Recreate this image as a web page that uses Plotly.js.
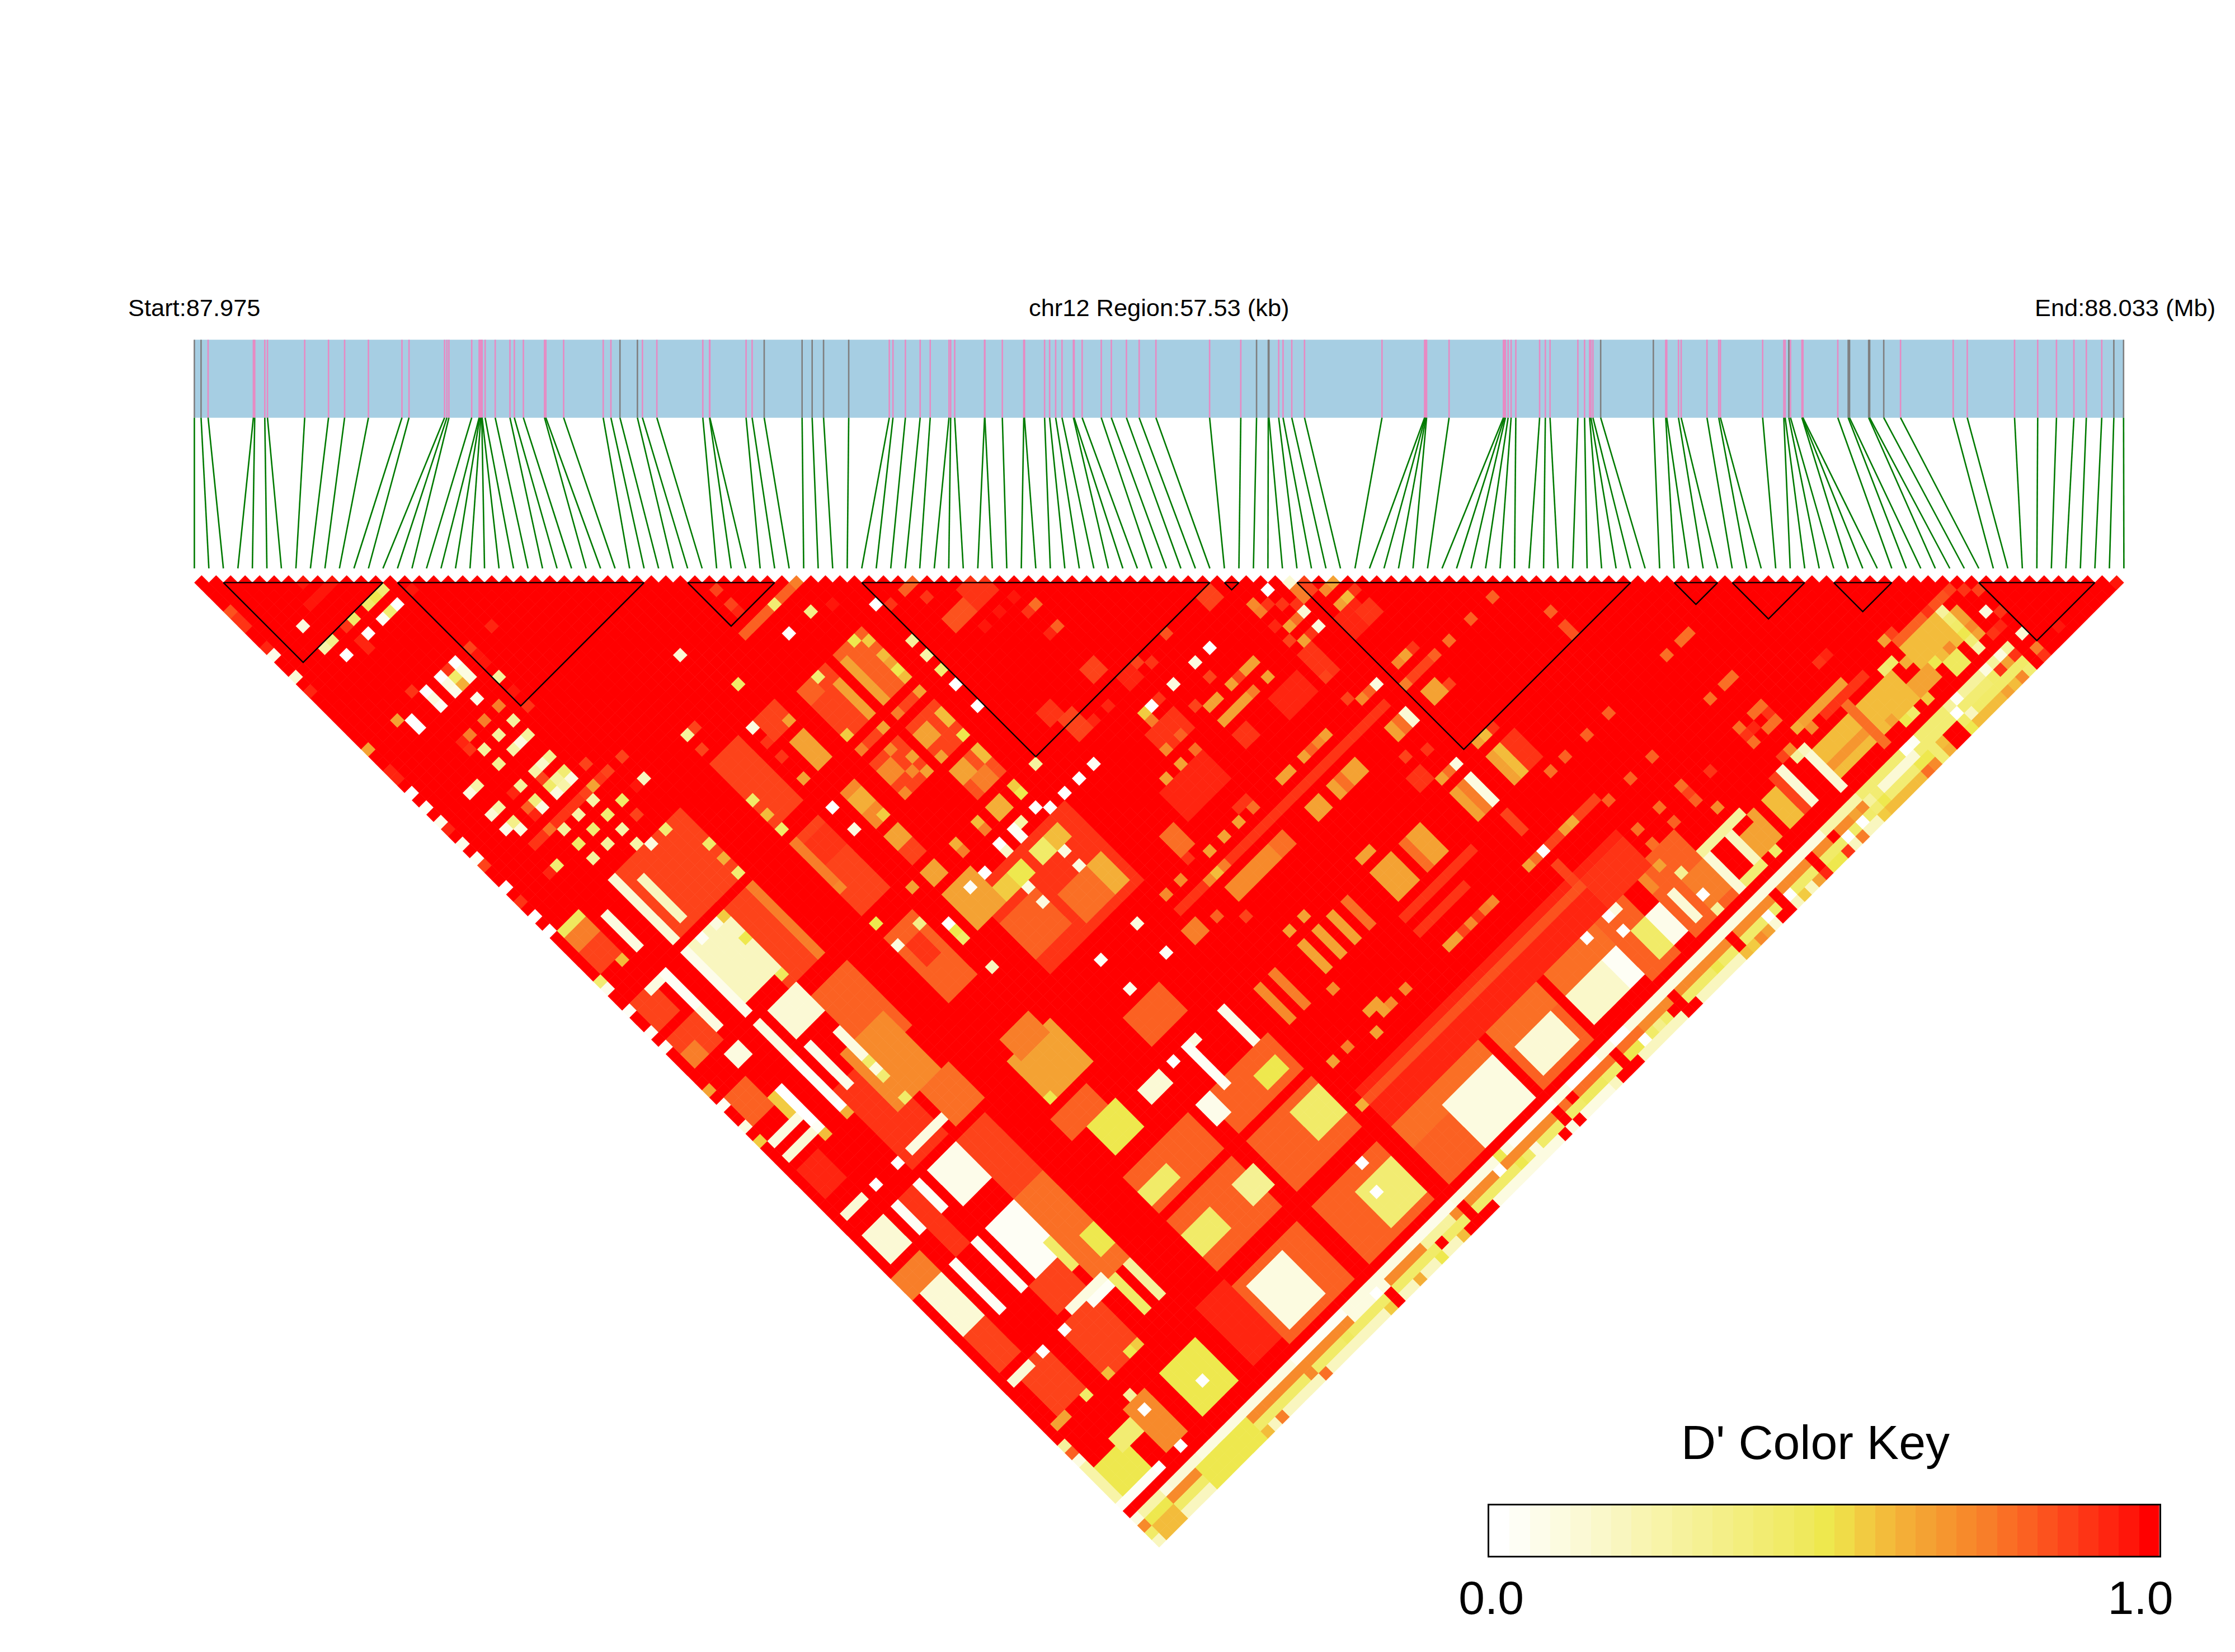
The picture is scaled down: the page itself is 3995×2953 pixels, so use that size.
<!DOCTYPE html>
<html><head><meta charset="utf-8">
<script src="https://cdn.plot.ly/plotly-3.0.1.min.js"></script>
<style>html,body{margin:0;padding:0;background:#fff}</style></head>
<body><div id="chart" style="width:3995px;height:2953px"></div>
<script>
// SNP genomic offsets in kb from region start
const snpKb=[0,.2,.41,1.76,1.8,2.1,2.18,3.29,4,4.48,5.19,6.19,6.4,7.46,7.53,7.59,8.27,8.49,8.51,8.54,8.57,8.58,8.67,8.97,9.41,9.54,9.81,10.44,10.48,11.01,12.19,12.42,12.69,13.21,13.36,13.79,
15.16,15.36,15.37,16.45,16.63,16.99,18.12,18.42,18.76,19.51,20.72,20.83,21.2,21.64,21.94,22.5,22.55,22.67,23.56,23.57,24.09,24.73,24.75,25.35,25.5,25.68,25.87,26.21,26.23,26.47,27.04,27.34,27.79,28.17,28.67,
30.27,31.2,31.67,32.02,32.04,32.33,32.46,32.72,33.1,35.41,36.68,36.7,36.72,36.74,37.41,39.03,39.06,39.09,39.17,39.26,39.4,40.11,40.28,40.42,41.25,41.45,41.6,41.64,41.7,41.93,
43.5,43.87,43.9,44.25,44.33,45.1,45.45,45.5,46.76,47.39,47.43,47.54,47.59,47.93,47.94,47.96,49,49.31,49.35,49.92,49.95,50.37,50.87,52.44,52.86,54.27,54.96,55.52,56.04,56.41,56.87,57.23,57.52];
const greySnps=[0,1,32,33,41,42,43,44,45,73,74,75,100,101,112,118,119,120,121,122,132,133];
const regionKb=57.53;
const blockStart=[2,14,34,46,71,76,102,106,113,123];
const blockEnd=[13,31,40,70,72,99,105,111,117,131];
const keyColors=['#FFFFFF','#FEFEF5','#FDFCEA','#FCFBE0','#FBF9D5','#FAF8CA','#F9F6BF','#F9F5B2','#F8F4A8','#F6F29D','#F5F193','#F4EF88','#F3EE7D','#F2EC72','#F1EB68','#EFE95D','#EEE84E','#F0DC48','#F2CB41','#F3BC3B','#F4AE37','#F4A233','#F6962F','#F78A2B','#F87E29','#FA6F25','#FB6122','#FC521E','#FD431A','#FE3415','#FF2510','#FF160A','#FF0000'];
const keyTickVals=[0.003,0.972], keyTickText=['0.0','1.0'];
// D' blocks: [iFrom,iTo,jFrom,jTo,value]; everything not listed is 1.0
const dprimeBlocks=[
[23,44,106,128,.8],[23,44,111,111,1],[23,44,119,120,1],[32,33,106,128,1],[43,44,106,128,1],[45,80,116,120,.92],[45,80,117,117,.82],[45,75,121,123,.78],[45,49,124,128,.8],[73,76,121,128,.8],[79,84,120,128,.8],[58,64,124,128,.8],[57,57,121,128,1],[65,65,121,128,1],
[0,100,130,130,.1],[0,100,131,131,.72],[0,100,132,132,.45],[0,100,133,133,.2],[58,68,131,131,.78],[100,120,130,133,.42],[110,111,132,133,1],
[57,57,131,133,1],[65,65,131,133,1],[73,73,131,133,1],[44,44,131,133,1],[33,33,132,133,1],[81,81,131,132,1],[87,87,131,132,1],[92,92,131,132,1],[95,95,131,131,1],
[46,62,133,133,.1],[66,67,130,130,.02],[60,63,130,130,.03],[60,62,132,132,.48],[52,57,130,130,.05],[38,43,130,130,.08],[39,42,131,131,.3],[33,37,130,130,.1],
[9,17,50,58,.85],[14,17,100,111,.78],[9,13,80,90,.88],[14,17,92,99,.85],[6,7,92,99,.88],[14,18,72,80,.8],[12,17,78,85,.7],[15,18,86,90,.78],[1,3,50,50,.47],[1,3,51,52,.75],[1,3,53,55,.85],
[23,26,49,57,.85],[30,31,53,56,.66],[29,31,49,51,.85],[34,37,50,56,.85],[37,37,52,56,.66],[34,35,50,51,.8],[39,42,50,56,.8],[39,39,51,56,.66],[40,41,52,53,.8],
[34,40,42,42,.8],[45,60,91,91,.9],[30,31,60,64,.72],[30,31,61,62,.62],[34,37,60,64,.85],[34,35,61,62,.72],[39,42,60,64,.85],[39,40,61,62,.66],[42,42,61,62,.6],
[34,37,58,58,.85],[39,42,58,58,.87],[39,42,66,69,.82],[39,40,66,67,.66],[42,42,66,67,.6],[40,41,68,69,.75],[49,51,55,56,.82],[52,54,54,56,.9],[55,56,68,69,.87],[49,50,68,69,.88],[50,51,70,72,.85],[57,58,71,72,.93],
[32,44,76,86,.9],[39,40,77,78,.45],[41,42,77,78,.6],[36,37,77,78,.5],[34,35,77,78,.55],[38,41,82,85,.78],[42,43,82,85,.62],[39,40,71,72,.62],[30,31,71,72,.65],[30,31,66,67,.65],[30,31,68,69,.85],
[23,26,60,69,.85],[23,23,60,66,.75],[24,26,61,63,.88],[17,17,60,69,.75],[13,16,60,69,.87],[8,11,61,63,.2],[23,26,73,81,.8],[24,25,75,77,.9],[30,33,74,78,.65],[32,36,80,84,.8],[34,38,95,98,.8],
[68,69,71,72,.87],[71,72,82,85,.9],[76,78,82,84,.92],[78,79,83,84,.9],[76,79,91,91,.87],[77,78,93,94,.65],[66,69,83,85,.92],[61,62,83,84,.9],[66,67,93,94,.66],[64,64,93,94,.66],[65,65,93,94,.78],
[60,73,91,91,.88],[74,74,102,105,.1],[73,73,102,105,.75],[72,72,102,105,.65],[78,78,102,105,.6],[77,77,102,105,.66],[79,80,102,105,.9],[70,71,98,99,.88],[61,62,93,94,.66],[74,74,107,109,.85],
[66,67,102,105,.66],[65,65,102,105,.78],[61,63,102,105,.66],[65,69,107,107,.88],[60,66,109,109,.9],[60,64,107,107,.88],[74,74,114,116,.85],[75,80,117,120,.88],[75,81,112,112,.87],
[57,57,102,105,.78],[55,55,102,105,.66],[53,53,102,105,.66],[51,51,102,105,.66],[47,47,102,106,.75],[45,45,102,106,.7],[44,45,93,94,.75],[56,57,93,94,.78],[54,55,93,94,.7],[52,53,93,94,.7],[50,51,93,94,.7],[49,50,85,87,.78],
[52,55,82,85,.93],[55,57,82,85,.93],[55,58,77,79,.88],[56,57,88,88,.88],
[113,120,122,122,.85],[113,118,122,122,.8],[113,117,123,126,.6],[115,116,127,128,.48],[111,113,126,127,.65],[100,105,124,127,.6],[100,105,126,126,.67],[106,110,124,127,.58],[105,105,122,128,.78],[100,106,121,121,.66],[103,108,122,122,.88],
[96,96,123,127,.15],[99,99,124,128,.15],[112,120,130,130,.3],[112,118,131,131,.42],[112,120,132,132,.45],[113,118,133,133,.6],[102,106,131,131,.15],[101,105,133,133,.58],[95,99,130,130,.25],
[93,94,124,127,.6],[95,95,123,127,.85],[91,91,124,127,.65],[85,90,123,123,.3],[88,88,124,128,.2],[89,90,125,127,.65],[85,85,124,128,.15],[86,88,128,128,.42],[82,84,124,127,.75],[80,80,124,127,.15],[77,78,124,127,.08],[75,76,124,127,.45],
[66,72,124,127,.18],[71,72,124,127,.05],[59,63,124,127,.15],[50,56,123,128,.1],[38,42,123,127,.4],[24,28,122,127,.1],[23,26,108,109,.45],[30,32,114,116,.33],[23,26,114,116,.45],[39,42,113,116,.45],[39,41,108,109,.5],[41,41,101,105,.08],[36,36,101,106,.05],[33,34,106,108,.08],[30,32,101,102,.15],
[5,5,52,56,.1],[8,8,50,58,.15],[10,10,52,57,.2],[8,8,60,68,.08],[5,5,60,66,.05],[9,13,60,67,.2],[5,5,65,67,.1],[8,8,70,74,.12],[10,13,70,73,.15],[8,8,75,80,.05],[10,10,75,80,.08],[13,13,76,82,.1],[4,5,70,71,.1],[1,4,79,79,.1],[1,4,81,81,.15],[5,5,76,80,.03],[4,4,76,78,.55],
[1,3,89,89,.15],[1,3,92,95,.15],[5,5,92,95,.05],[8,8,92,95,.05],[10,13,92,96,.08],[10,13,100,106,.05],[13,13,105,108,.45],[16,17,107,109,.5],[8,8,101,106,.05],[5,5,101,106,.05],[1,3,100,105,.15],[0,3,97,99,.75],[10,14,111,111,.1],[10,14,89,89,.1],
[1,3,60,63,.85],[1,4,65,68,.85],[1,2,67,68,.75],[1,3,73,76,.8],[1,3,83,86,.92],[23,28,90,95,.66],[24,27,88,90,.75],[24,27,100,103,.5],[22,26,97,99,.8],
[1,4,124,127,.5],[0,0,123,127,.25],[4,6,123,124,.42],[7,9,122,127,.7],[5,8,130,130,.15],[8,14,131,133,.5],[0,5,128,128,.05],[19,22,120,127,.92],[12,16,122,127,.5],[8,12,112,118,.85],[2,5,112,117,.87],[1,2,118,118,.66],[1,3,112,112,.15],[1,3,106,110,.87],[9,12,107,110,.87],[12,15,112,112,.05],[15,15,112,116,.45],[17,17,112,116,.3],
[1,3,130,130,.25],[1,3,131,131,.5],[1,3,132,133,.6],[22,28,130,130,.05],[29,33,130,131,.1],[0,2,129,129,1],[84,87,133,133,1],[6,9,10,10,.96],[5,8,12,12,.98],[5,11,42,42,.9],[34,40,42,42,.8]
];
// Single cells: [i,j,value]
const dprimeCells=[
[0,5,.82],[0,6,.9],[0,7,.9],[0,10,.92],[0,11,.08],[0,14,.15],[0,16,.93],[0,24,.65],[0,27,.92],[0,28,.92],[0,30,.03],[0,32,.05],[0,34,.08],[0,35,.93],[0,37,.08],[0,39,.05],[0,40,.85],[0,43,.03],[0,45,.88],[0,47,.03],[0,49,.03],[0,56,.4],[0,57,.08],[0,60,.05],[0,63,.05],[0,65,.05],[0,71,.65],[0,73,.05],[0,76,.1],[0,78,.55],[0,119,1],[0,120,.3],[0,121,.8],[0,122,.12],[0,133,.2],
[7,8,.95],[4,11,.12],[12,14,.42],[11,14,.5],[10,14,.45],[12,16,.03],[11,16,.4],[10,16,.05],[8,14,.45],[7,14,.88],[8,16,.03],[7,16,.93],[7,17,.92],[5,14,.35],[4,14,.25],[5,16,.03],
[14,16,.95],[19,22,.97],[17,24,.93],[16,26,.97],[14,24,.85],[14,25,.96],[14,26,.96],[12,24,.02],[12,25,.1],[12,26,.12],[11,24,.9],[11,25,.45],[11,26,.62],[10,24,.03],[10,25,.12],[10,26,.08],[8,24,.02],[8,25,.1],[8,26,.05],[7,23,.9],[5,25,.03],[5,26,.02],[4,24,.66],
[11,28,.08],[12,30,.75],[10,30,.75],[8,30,.75],[7,30,.92],[7,31,.9],[12,32,.3],[10,32,.3],[8,32,.3],[8,34,.32],[12,34,.3],[11,34,.12],[10,34,.25],[14,28,.3],[14,30,.94],[14,32,.88],
[12,37,.32],[11,37,.18],[10,37,.25],[12,39,.4],[12,40,.1],[11,39,.28],[11,40,.25],[10,39,.45],[10,40,.12],[10,38,.85],[5,34,.25],[4,34,.12],[5,35,.97],[8,37,.28],[7,37,.92],[8,39,.38],[8,40,.12],[7,39,.8],[7,40,.92],[5,37,.25],[4,37,.15],[5,39,.35],[5,40,.12],[4,39,.08],
[5,45,.4],[4,45,.92],[14,40,.85],[17,45,.2],[16,45,.96],[13,42,.66],[12,42,.85],[14,42,.9],[15,42,.85],[17,42,.85],[12,43,.25],[14,45,.45],[10,43,.25],[12,45,.4],[14,47,.87],[8,43,.3],[10,45,.4],[12,47,.25],[7,42,.78],[8,45,.45],[10,47,.3],[8,47,.3],[12,49,.25],[13,50,.12],[15,50,.42],
[23,54,.45],[23,58,.45],[23,56,.6],[28,56,.66],[31,51,.66],[36,50,.42],[34,56,.55],[41,50,.5],[42,51,.55],[42,55,.5],[42,56,.6],[42,53,.58],[42,54,.65],
[38,42,.4],[41,42,.75],[35,37,.87],[35,39,.85],[35,40,.92],[28,39,.15],[37,45,.03],[40,45,.35],[42,46,.95],[30,45,.45],[23,45,.3],[24,45,.85],[28,49,.1],[23,47,.87],[28,51,.9],[28,53,.88],
[31,64,.55],[37,58,.66],[34,58,.75],[36,60,.72],[37,62,.66],[37,64,.65],[36,63,.7],[34,64,.7],[39,58,.75],[42,58,.66],[42,64,.5],[39,64,.66],[42,71,.55],[42,72,.5],
[45,71,.3],[49,75,.05],[47,75,.03],[45,75,.03],[45,49,.03],[46,50,.9],[45,54,.3],[45,56,.25],[45,58,.4],[45,60,.02],[45,63,.02],
[48,50,.8],[49,50,.8],[49,52,.88],[51,58,.95],[53,58,.95],[55,58,.95],[55,60,.9],[56,60,.78],[55,63,.92],[56,63,.8],[58,67,.97],[52,72,.92],[54,72,.92],[59,71,.85],[60,72,.9],[63,71,.82],[57,75,.03],[56,75,.55],[56,76,.75],[58,75,.9],[60,75,.12],
[42,74,.02],[43,75,.02],[39,74,.05],[40,74,.25],[39,75,.05],[37,74,.02],[37,75,.18],[34,75,.03],[32,75,.05],[41,79,.1],[41,81,.1],[36,79,.1],[36,81,.08],[34,71,.62],[34,72,.75],[37,71,.6],[37,72,.75],[28,71,.66],[28,63,.12],[28,60,.03],[23,66,.72],
[17,54,.45],[17,58,.42],[17,56,.62],[13,60,.55],[12,60,.12],[10,60,.05],[13,63,.5],[23,71,.5],[23,74,.1],[26,74,.35],[28,76,.03],[28,78,.45],[28,77,.5],[28,82,.2],[36,89,.05],[36,81,.1],
[73,75,.02],[71,75,.72],[71,76,.75],[72,76,.9],[73,77,.9],[74,78,.9],[74,79,.15],[73,79,.78],[72,79,.66],[71,78,.92],[74,81,.1],[73,81,.9],[72,81,.66],[71,80,.87],[71,85,.87],[75,76,.15],[76,77,.85],[78,79,.65],[75,77,.75],[75,78,.75],[76,78,.85],[77,79,.7],[78,81,.6],[77,81,.66],[79,81,.9],
[88,91,.8],[91,96,.8],[85,91,.8],[91,98,.82],[91,99,.82],[82,91,.78],[78,89,.65],[77,89,.72],[79,89,.9],[80,91,.8],[76,91,.75],[79,94,.85],[74,89,.12],[73,89,.8],[72,89,.72],[71,88,.85],
[63,75,.1],[65,75,.03],[66,79,.66],[67,79,.66],[65,79,.85],[64,79,.66],[67,81,.66],[65,81,.75],[64,81,.66],[63,77,.85],[61,79,.66],[62,79,.66],[60,78,.85],[61,81,.66],[62,81,.66],[63,81,.66],[67,89,.66],[66,89,.7],[65,89,.8],[64,89,.66],[62,89,.66],[61,89,.66],
[74,93,.15],[74,94,.15],[73,93,.78],[73,94,.78],[72,93,.66],[72,94,.66],[74,100,.12],[73,100,.78],[72,100,.66],[78,100,.6],[77,100,.66],[79,100,.9],[80,107,.78],[85,107,.8],[88,107,.8],[82,107,.8],[88,113,.8],[85,113,.8],[82,113,.8],[71,96,.87],[73,97,.88],
[61,100,.66],[62,100,.66],[66,112,.75],[67,112,.72],[64,112,.7],[65,112,.88],[61,112,.66],[62,112,.66],[63,112,.85],[74,112,.03],[73,112,.78],[72,112,.66],[74,115,.85],[79,121,.72],[79,122,.72],[75,121,.12],[74,121,.03],[74,123,.03],[71,121,.03],
[53,100,.66],[51,100,.66],[47,94,.8],[49,96,.87],[51,89,.66],[53,89,.66],[50,91,.6],[49,91,.7],[51,91,.75],[47,89,.72],[45,89,.7],[49,88,.88],[57,89,.78],[55,89,.66],[53,81,.66],[57,81,.78],[55,81,.65],[55,79,.72],[57,79,.8],
[78,112,.62],[77,112,.66],[99,107,.78],[98,107,.78],[96,107,.78],[99,113,.78],[98,113,.78],[96,113,.78],[99,117,.78],[98,117,.78],[99,118,.88],[99,119,.78],[98,119,.78],[97,118,.93],[96,117,.78],[96,118,.88],[96,119,.78],[107,118,.93],[106,118,.9],[91,118,.9],[88,117,.78],[88,118,.85],[88,119,.8],[85,117,.78],[85,119,.8],[82,119,.78],[82,117,.78],
[121,123,.88],[122,124,.85],[121,126,.12],[122,127,.9],[121,128,.92],[122,130,.15],[122,132,.75],[122,133,.88],[132,133,.95],[125,132,.95],[119,122,.82],[118,122,.82],[117,122,.9],[118,123,.3],[118,124,.4],[118,125,.45],[118,126,.5],[118,127,.4],[118,128,.25],[119,124,.66],[119,125,.65],[119,126,.7],[119,127,.66],[120,128,.9],
[116,126,.72],[114,126,.5],[112,124,.62],[111,123,.45],[110,123,.42],[112,121,.66],[113,121,.87],[100,121,.62],[101,122,.72],[107,127,.65],[108,128,.5],[109,128,.45],[111,128,.55],[98,122,.72],[97,122,.85],[98,123,.3],[99,123,.2],[119,130,.12],[117,130,.1],[115,130,.3],[113,130,.05],[120,131,.9],[119,131,.66],[118,131,.9],[117,131,.45],[119,133,.72],[117,133,.66],[114,133,.6],[112,133,.5],[113,132,.2],[112,131,.03],[109,132,.6],[109,133,.62],[107,132,.5],[106,132,.5],[107,133,.7],[106,133,.78],[107,130,.05],[106,130,.03],
[101,130,.4],[101,132,.5],[100,131,.3],[101,133,.6],[100,133,.55],[99,133,.2],[98,131,.66],[97,133,.75],[97,132,.45],[96,132,.02],[98,132,.02],[96,133,.2],[95,133,.9],[93,133,.5],[94,133,.5],[92,133,.92],[91,133,.66],[88,132,.02],[89,133,.55],[88,133,.2],[85,132,.02],[85,133,.15],[83,133,.72],[84,133,.66],[81,133,.6],[82,133,.55],
[89,121,.7],[90,128,.45],[82,123,.32],[81,121,.65],[82,126,.02],[82,128,.3],[40,121,.02],[39,124,.02],
[30,101,.15],[41,93,.05],[36,93,.08],[41,89,.12],[37,101,.12],[34,101,.03],[34,107,.08],[51,111,.66],[52,111,.66],[52,112,.66],[50,113,.66],[53,112,.7],[55,112,.7],[50,107,.7],[47,112,.75],[45,112,.66],[44,117,.62],
[4,60,.1],[3,60,.1],[3,56,.58],[13,68,.48],[13,80,.45],[13,82,.4],[13,85,.45],[8,72,.1],[5,81,.05],[5,82,.6],[8,81,.03],[8,82,.62],[8,89,.02],[5,89,.03],[8,112,.03],[5,100,.05],[8,100,.05],[23,95,.5],[5,112,.03],[5,118,.45],[8,118,.58],[8,121,.3],[8,123,.03],[11,118,.5],[12,118,.55],[5,128,.03],[8,128,.03],[14,125,.02],
[15,133,.6],[17,133,.75],[23,133,.78],[27,132,.48],[32,133,.55],[22,132,.72],[43,133,1],[44,132,1],[45,133,1],[46,133,1],[40,132,1],[74,133,1],[72,132,1],[64,133,1],[66,133,1],[56,133,1],[58,133,1],[59,131,1],
[68,132,.02],[70,132,.35],[66,132,.5],[67,132,.5],[78,132,.5],[53,132,.1],[49,131,.02],[50,130,.5],[51,132,.5],[42,133,.58],[39,133,.5],[36,133,.62],[32,131,.02]
];

const N=snpKb.length;
const matrix={};
dprimeBlocks.forEach(b=>{for(let i=b[0];i<=b[1];i++)for(let j=Math.max(b[2],i+1);j<=b[3];j++)matrix[i+'_'+j]=b[4];});
dprimeCells.forEach(c=>{matrix[c[0]+'_'+c[1]]=c[2];});
const cx=[],cy=[],cz=[];
for(let i=0;i<N-1;i++)for(let j=i+1;j<N;j++){
  const v=matrix[i+'_'+j];
  cx.push((i+j)/2);cy.push((j-i-1)/2);cz.push(v===undefined?1:v);
}
const stepScale=[];
keyColors.forEach((c,k)=>{stepScale.push([k/keyColors.length,c]);stepScale.push([(k+1)/keyColors.length,c]);});

const pxStep=3449/133, pxLeft=347.4, pxTop=1041.4, W=3995, H=2953;
const barTop=(607.3-pxTop)/pxStep, barBottom=(746.7-pxTop)/pxStep, linkEnd=(1016-pxTop)/pxStep;
const snpX=snpKb.map(k=>k/regionKb*(N-1));
const xs=(list)=>{const a=[];list.forEach(p=>a.push(p,p,null));return a;};
const ys=(list)=>{const a=[];list.forEach(()=>a.push(barTop,barBottom,null));return a;};
const pinkX=snpX.filter((_,k)=>!greySnps.includes(k)), greyX=greySnps.map(k=>snpX[k]);
const linkX=[],linkY=[];
snpX.forEach((p,k)=>{linkX.push(p,k,null);linkY.push(barBottom,linkEnd,null);});
const blkX=[],blkY=[];
blockStart.forEach((s,k)=>{const e=blockEnd[k];blkX.push(s,(s+e)/2,e,s,null);blkY.push(0,(e-s)/2,0,0,null);});

const keyN=keyColors.length;
const traces=[
 {type:'scatter',mode:'markers',x:cx,y:cy,hoverinfo:'skip',marker:{symbol:'diamond',size:20.4,color:cz,cmin:0,cmax:1,colorscale:stepScale,showscale:false,line:{width:0}}},
 {type:'scatter',mode:'lines',x:xs(pinkX),y:ys(pinkX),line:{color:'#E78AC3',width:2.6},hoverinfo:'skip'},
 {type:'scatter',mode:'lines',x:xs(greyX),y:ys(greyX),line:{color:'#7F7F7F',width:2.6},hoverinfo:'skip'},
 {type:'scatter',mode:'lines',x:linkX,y:linkY,line:{color:'#007A00',width:2.6},hoverinfo:'skip'},
 {type:'scatter',mode:'lines',x:blkX,y:blkY,line:{color:'#000000',width:2.4},hoverinfo:'skip'},
 {type:'heatmap',xaxis:'x2',yaxis:'y2',x:keyColors.map((_,k)=>(k+.5)/keyN),y:[0,1],z:[keyColors.map((_,k)=>k/(keyN-1)),keyColors.map((_,k)=>k/(keyN-1))],zmin:0,zmax:1,colorscale:keyColors.map((c,k)=>[k/(keyN-1),c]),showscale:false,hoverinfo:'skip'}
];
const font='"Liberation Sans", Arial, sans-serif';
const note=(t,px,py,size)=>({text:t,xref:'paper',yref:'paper',x:px/W,y:1-py/H,showarrow:false,xanchor:'center',yanchor:'middle',font:{family:font,size:size,color:'#000'}});
const layout={width:W,height:H,margin:{l:0,r:0,t:0,b:0},paper_bgcolor:'#fff',plot_bgcolor:'rgba(0,0,0,0)',showlegend:false,
 xaxis:{visible:false,domain:[0,1],range:[-pxLeft/pxStep,(W-pxLeft)/pxStep]},
 yaxis:{visible:false,domain:[0,1],range:[(H-pxTop)/pxStep,-pxTop/pxStep]},
 xaxis2:{domain:[2662/W,3859.5/W],range:[0,1],anchor:'y2',tickvals:keyTickVals,ticktext:keyTickText,ticklen:0,tickfont:{family:font,size:84,color:'#000'},showline:true,mirror:true,linecolor:'#000',linewidth:3,showgrid:false,zeroline:false,automargin:false},
 yaxis2:{domain:[1-2781/H,1-2691/H],range:[0,1],anchor:'x2',showticklabels:false,ticklen:0,showline:true,mirror:true,linecolor:'#000',linewidth:3,showgrid:false,zeroline:false,automargin:false},
 shapes:[{type:'rect',xref:'x',yref:'y',x0:0,x1:N-1,y0:barTop,y1:barBottom,fillcolor:'#A6CEE3',line:{width:0},layer:'below'}],
 annotations:[note('Start:87.975',347,550,43.4),note('chr12 Region:57.53 (kb)',2072,550,43.4),note('End:88.033 (Mb)',3798,550,43.4),note("D' Color Key",3245,2578,86)]
};
Plotly.newPlot('chart',traces,layout,{staticPlot:true,displayModeBar:false});
</script></body></html>
